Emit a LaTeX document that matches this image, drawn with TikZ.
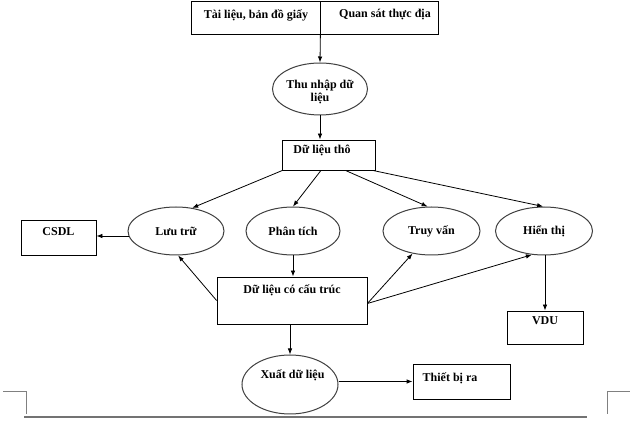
\documentclass[tikz,border=0pt]{standalone}
\usepackage{fontspec}
\setmainfont{Liberation Serif}
\usetikzlibrary{shapes.geometric,arrows.meta,calc}

\tikzset{
  box/.style={draw=black, line width=0.8pt, rectangle, inner sep=0pt},
  oval/.style={draw=black!75, line width=1pt, ellipse, inner sep=0pt,
               minimum width=96pt, minimum height=48pt,
               font=\fontsize{12}{13}\selectfont\bfseries},
  txt/.style={inner sep=0pt, font=\fontsize{12}{13}\selectfont\bfseries},
  flow/.style={draw=black, line width=0.8pt,
               -{Latex[length=6pt,width=4.5pt]}},
  plain/.style={draw=black, line width=0.8pt},
  pagemark/.style={draw=black!50, line width=1pt},
  pageline/.style={draw=black!55, line width=1.4pt}
}

\begin{document}
\begin{tikzpicture}[x=1pt,y=-1pt]
  \useasboundingbox (0,0) rectangle (633,422);
  \fill[white] (0,0) rectangle (633,422);

  % sources
  \node[box, minimum width=129pt, minimum height=33pt] (src1) at (255.5,17.5) {};
  \node[box, minimum width=118pt, minimum height=33pt] (src2) at (379,17.5) {};
  \node[txt] at (256,15) {Tài liệu, bản đồ giấy};
  \node[txt] at (385,15) {Quan sát thực địa};

  % data capture
  \node[oval, minimum width=95pt, minimum height=52pt] (thunhap) at (320,89) {};
  \node[txt, align=center] at (320,92) {Thu nhập dữ\\liệu};

  % raw data
  \node[box, minimum width=93pt, minimum height=30pt] (dlt) at (328.5,155) {};
  \node[txt] at (322,150) {Dữ liệu thô};

  % processing row
  \node[oval] (luutru)   at (176,231)   {Lưu trữ};
  \node[oval, minimum width=94pt] (phantich) at (293,231) {Phân tích};
  \node[oval, minimum width=97pt] (truyvan)  at (431.5,231) {Truy vấn};
  \node[oval, minimum width=97pt] (hienthi)  at (544,231) {Hiển thị};

  \node[box, minimum width=75pt, minimum height=35pt] (csdl) at (58.5,237.5) {};
  \node[txt] at (58.5,232) {CSDL};

  % structured data
  \node[box, minimum width=150pt, minimum height=47pt] (dlcct) at (292,300.5) {};
  \node[txt] at (292,290) {Dữ liệu có cấu trúc};

  % display unit
  \node[box, minimum width=76pt, minimum height=33pt] (vdu) at (545,327.5) {};
  \node[txt] at (545,321) {VDU};

  % output
  \node[oval, minimum width=96pt, minimum height=59pt] (xuat) at (290,384.5) {};
  \node[txt] at (292.5,375) {Xuất dữ liệu};
  \node[box, minimum width=97pt, minimum height=35pt] (tbr) at (461.5,381.5) {};
  \node[txt] at (450,378) {Thiết bị ra};

  % connectors
  \draw[flow] (src1.south east) -- (thunhap.north);
  \draw[flow] (thunhap.south) -- (thunhap.south |- dlt.north);

  \draw[flow] ($(dlt.south west)!0.01!(dlt.south east)$) -- (luutru.55);
  \draw[flow] ($(dlt.south west)!0.42!(dlt.south east)$) -- (phantich.north);
  \draw[flow] ($(dlt.south west)!0.68!(dlt.south east)$) -- (truyvan.99);
  \draw[flow] ($(dlt.south west)!0.97!(dlt.south east)$) -- (hienthi.92);

  \draw[flow] (luutru.186) -- (luutru.186 -| csdl.east);
  \draw[flow] (phantich.south) -- (phantich.south |- dlcct.north);

  \draw[flow] (dlcct.west) -- (luutru.-85);
  \draw[flow] ($(dlcct.east)+(0,3)$) -- (truyvan.-130);
  \draw[flow] ($(dlcct.east)+(0,3)$) -- (hienthi.-117);

  \draw[flow] (hienthi.south -| vdu.north) -- (vdu.north);
  \draw[flow] (xuat.north |- dlcct.south) -- (xuat.north);
  \draw[flow] (tbr.west -| xuat.east) -- (tbr.west);

  % page frame marks
  \draw[pagemark] (3,392) -- (26,392) -- (26,414);
  \draw[pageline] (24,417) -- (587,417);
  \draw[pagemark] (607,414) -- (607,392) -- (630,392);
\end{tikzpicture}
\end{document}
